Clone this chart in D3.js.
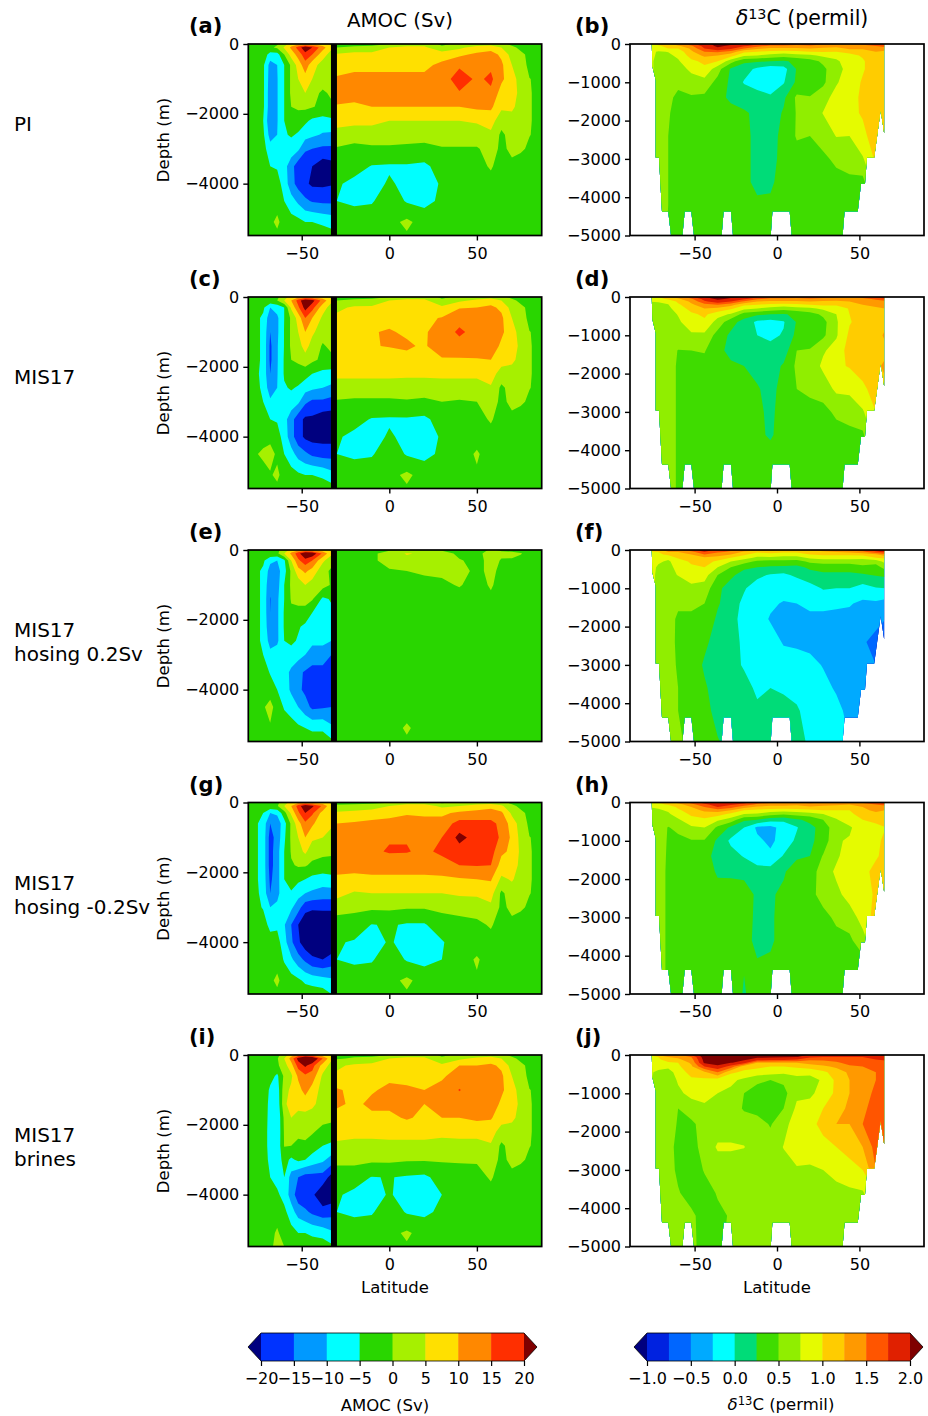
<!DOCTYPE html>
<html>
<head>
<meta charset="utf-8">
<script src="https://cdn.jsdelivr.net/npm/d3@7"></script>
<style>
body { margin: 0; background: #fff; }
text { font-family: "DejaVu Sans", sans-serif; fill: #000; }
</style>
</head>
<body>
<div id="chart"></div>
<script>
// grid of the AMOC panels (the jump between -33 and -30 sits under the black bar)
var amocLat = [-81,-72,-68,-64,-60,-56,-52,-48,-44,-38,-33,-30,-20,-10,0,10,20,30,40,50,58,64,70,75,80,88];
var amocDepth = [0,-100,-300,-600,-1000,-1400,-1800,-2200,-2600,-3000,-3500,-4000,-4500,-5100,-5485];
// grid of the d13C panels
var d13cLat = [-78,-72,-66,-60,-52,-44,-36,-28,-20,-12,-4,4,12,20,28,36,44,52,60,66];
var d13cDepth = [0,-50,-120,-200,-300,-450,-650,-1000,-1400,-1800,-2400,-3000,-3600,-4200,-5000];

var amocLevels = [-20,-15,-10,-5,0,5,10,15,20];
var amocColors = ["#00007f","#0033ff","#0099ff","#00ffff","#29d600","#a6f000","#ffe000","#ff8800","#ff2f00","#7f0000"];
var d13cLevels = [-1,-0.75,-0.5,-0.25,0,0.25,0.5,0.75,1,1.25,1.5,1.75,2];
var d13cColors = ["#00007f","#0022e0","#0066ff","#00aaff","#00ffff","#00dc78","#3fdc00","#90ee00","#e5fb00","#ffcc00","#ff9900","#ff5500","#e02000","#7f0000"];

// sea floor outline of the d13C sections
var oceanLat = [-76,-75.6,-73.6,-73.6,-71.6,-69.8,-66,-64.3,-57.4,-56,-52,-50.4,-33.6,-32.4,-27.9,-26.7,-3.8,-2.8,7.7,8.9,39.8,41,49,51,53.4,54.6,59,62.9,65,65];
var oceanDepth = [0,-590,-940,-2965,-2965,-4375,-4375,-5000,-5000,-4375,-4375,-5000,-5000,-4375,-4375,-5000,-5000,-4375,-4375,-5000,-5000,-4375,-4375,-3650,-3650,-2965,-2965,-1720,-2330,0];
var sectionLat = -31.6;

var rowLabels = [["PI"],["MIS17"],["MIS17","hosing 0.2Sv"],["MIS17","hosing -0.2Sv"],["MIS17","brines"]];
var amocLetters = ["(a)","(c)","(e)","(g)","(i)"];
var d13cLetters = ["(b)","(d)","(f)","(h)","(j)"];

// every inner array is one latitude column, surface first
var amocPI = [
[-1,-1,-1,-1,-1,-1,-1,-1,-1,-1,-1,-1,-1,-1,-1],
[-1,-1,-2,-4,-4,-4,-4,-5,-4,-3,-1,-1,-1,-1,-1],
[-1,-1,-7,-12,-12.5,-13,-13,-14,-12,-8,-5,-2,-1,-1,-1],
[-0.5,1,-7,-10,-10.3,-10.3,-10.3,-10.3,-10,-7,-5.5,-3,-2,1,-1],
[3,5.5,0,-5,-5,-5,-5,-5,-5.5,-7,-8,-7,-5,-2,-2],
[7,11,7,1,1,1,0,-2,-4.5,-7,-13,-13,-8,-3,-2],
[9,17,12,7,5,3,1,-3,-5.5,-9,-18,-17,-11,-3.5,-2],
[9,24,18,13,8,5,1,-4,-8,-14,-20,-19,-14,-5,-2],
[9,20,15,7,5,2,0.3,-6,-9,-15,-20,-21,-15.5,-5,-2],
[7,12,7,3,3,-1,-1,-7,-10.5,-16,-23,-21,-16,-6,-2],
[4,6,3,3,2,1,-1,-6,-11,-16,-22,-20.5,-16,-7,-3],
[-1,0,5.5,8,10.5,12.5,9.5,6.5,3.5,-0.5,-3,-4.5,-5,-2,-1],
[-1,0.5,7,9,11,12,9,6,3,-2,-3.5,-6,-6,-2,-1],
[-1,1,7,9,11,12,10,6,3,-1,-5.2,-6.5,-5.5,-2,-1],
[0,5,8,9,11,13,10,5,3,-1,-5.5,-4.5,-2,-1.5,-1],
[3,6,8,9,11,13,10,5,2,-1,-5.5,-6,-5.5,1,-0.5],
[3,6,8,9,11,13,10,5,2,-1.5,-6,-7,-6.5,-2,-1],
[-1,1,8,11,12,13,10,5,3,-0.5,-3,-4.5,-4,-2,-1.5],
[1,4,9,14,18,14.5,10,5,3,-0.5,-2,-2,-2,-2,-2],
[2,7,11,13,14,14,11,5.5,3,-0.5,-1.5,-2,-2,-2,-2],
[3,8,12,14,16,14,11,7,4,2,0.5,-1.5,-2,-2,-2],
[1,5,9,11,11,8,6,2,-1,-1,-2,-2,-2,-2,-2],
[-1,1,3,5,7,8,6,3,2,1,-1,-2,-2,-2,-2],
[-1,-1,1,2,3,3,3,3,2.5,0.5,-1.5,-2,-2,-2,-2],
[-1,-0.5,-1,-1,0.1,0.2,0.2,0.2,0.1,-0.5,-1.5,-2,-2,-2,-2],
[-1,-1,-1,-1,-1,-1,-1,-1,-1,-1,-1,-1,-1,-1,-1]];

var amocMIS17 = [
[-1,-1,-1,-1,-1,-1,-1,-1,-1,-1,-1,-1,-1,-1,-1],
[-1,-1,-4,-6,-6,-6,-6,-6.5,-6,-5,-2,-1,0.5,-1,-1],
[-1,-1,-10,-13,-15,-16,-16,-15,-13,-9,-5,-1.5,2,-0.5,-1],
[-1,0,-8,-11,-11,-10.5,-10.5,-10.3,-10,-7,-5.5,-3,-1,1,-1],
[3,5,-5,-5,-4.8,-4.8,-4.5,-4.5,-5.5,-6.5,-8,-7,-5,-2,-2],
[7,10,6,1,1,1,0,-2,-4.5,-7,-13,-13,-8,-3,-2],
[9,17,14,7,5,3,1,-2.5,-5.5,-9,-18,-18,-12,-4,-2],
[9,25,22,15,10,7,3,-3,-8,-14,-21,-21,-14,-5,-1.5],
[9,22,17,10,6,3,1,-5,-9,-16,-21,-22,-16,-5,-2],
[7,13,7,4,2,-0.5,-1,-6.5,-10,-16,-23,-22,-17,-6,-2],
[4,6,3,2,2,1,-1,-7,-11,-17,-23,-22,-17,-8,-3],
[-1,0,3.5,6.5,9.5,9,8,6,3,-0.5,-3,-4.5,-5,-2,-1],
[-1,0.5,6,8,9,9,8,6,3,-1,-3.5,-6,-6,-2,-1],
[-1,1,6,8,9.8,9.8,8,6,3,-1,-5.3,-6.5,-5.5,-2,-1],
[0,5,7,9,10.3,10.2,8,6,3,-1,-5.5,-4.5,-2,-1.5,-1],
[3,6,7,9,9.5,10.5,9,6,2.5,-0.5,-5.5,-6,-5.5,1,-0.5],
[3,6,7,9,9.5,9.5,9,6,2.5,-1,-6,-7,-6.5,-2,-1],
[-1,1,6,10.3,12,12.5,9.5,6,3,0,-3,-4.5,-4,-2,-1.5],
[1,4,9.7,13,16,13,9.5,6,3,-0.5,-2,-2,-2,-2,-2],
[2,6,10,12,13,12.5,9.7,6,3,0,-1.5,-1.5,0.5,-0.5,-2],
[3,8,11,13,14,13,10,7,4.5,2,0.5,-1.5,-2,-2,-2],
[1,5,9,11,11,9,7,3,-1,-1,-2,-2,-2,-2,-2],
[-1,1,3,5,7,8,6,3,2,1,-1,-2,-2,-2,-2],
[-1,-1,1,2,3,3.5,3.5,3,2.5,0.5,-1.5,-2,-2,-2,-2],
[-1,-0.5,-1,-1,0.1,0.2,0.2,0.2,0.1,-0.5,-1.5,-2,-2,-2,-2],
[-1,-1,-1,-1,-1,-1,-1,-1,-1,-1,-1,-1,-1,-1,-1]];

var amocHosing = [
[-1,-1,-1,-1,-1,-1,-1,-1,-1,-1,-1,-1,-1,-1,-1],
[-1,-1,-4,-6,-6,-6,-6,-6,-6,-5,-2,-1,-0.5,-1,-1],
[-1,-1,-9,-12,-14,-15.2,-15,-14,-12,-8.5,-5.5,-2,1.5,-0.5,-1],
[-1,-1,-10,-12,-12,-11,-11,-11,-11,-7.5,-6,-5,-2,-1.5,-1.5],
[2,5,-6,-7,-5,-5,-4.5,-4.5,-5,-7,-8,-7,-5.5,-2,-1.5],
[7,11,5,1,1,0.5,-1,-2,-4,-7,-11,-11,-7,-3,-1.5],
[9,18,14,8,2,1,-1,-4.5,-5.5,-8,-14,-14,-10,-4,-1.5],
[9,26,18,11,5,2,-2,-6,-8,-10,-15.5,-16,-13,-5,-2],
[9,24,15,8,3,0.5,-5,-7,-9,-12,-17,-19,-16,-6,-2],
[7,14,6,2,2,-6,-6,-8,-9,-12,-17,-17,-15.5,-6,-2],
[4,6,2,-1,-0.5,-4.5,-6,-8,-10,-15,-17,-17,-15,-9,-4],
[-1,-1,-1,-1,-1,-1,-1,-1,-1,-1,-1,-1,-1,-1,-1],
[-1,-1,-1,-1,-1,-1,-1,-1,-1,-1,-1,-1,-1,-1,-1],
[-1,-1,-1,-1,-1,-1,-1,-1,-1,-1,-1,-1,-1,-1,-1],
[-0.5,2,2,-0.5,-1,-1,-1,-1,-1,-1,-1,-1,-1,-1,-1],
[-0.5,5.5,3,0,-1,-1,-1,-1,-1,-1,-1,-1,-1,0.3,-0.3],
[-0.5,4,3,0.5,-1,-1,-1,-1,-1,-1,-1,-1,-1,-1,-1],
[-0.5,2,1.5,0.5,-0.5,-1,-1,-1,-1,-1,-1,-1,-1,-1,-1],
[-1,-1,0.3,1.5,0.2,-1,-1,-1,-1,-1,-1,-1,-1,-1,-1],
[-1,-1,-1,-1,-1,-1,-1,-1,-1,-1,-1,-1,-1,-1,-1],
[0.3,1.5,1,1,0.3,-0.5,-1,-1,-1,-1,-1,-1,-1,-1,-1],
[-0.3,0.5,-0.2,-1,-1,-1,-1,-1,-1,-1,-1,-1,-1,-1,-1],
[-1,1,-0.5,-1,-1,-1,-1,-1,-1,-1,-1,-1,-1,-1,-1],
[-1,0.2,-1,-1,-1,-1,-1,-1,-1,-1,-1,-1,-1,-1,-1],
[-1,-1,-1,-1,-1,-1,-1,-1,-1,-1,-1,-1,-1,-1,-1],
[-1,-1,-1,-1,-1,-1,-1,-1,-1,-1,-1,-1,-1,-1,-1]];

var amocHosingNeg = [
[-1,-1,-1,-1,-1,-1,-1,-1,-1,-1,-1,-1,-1,-1,-1],
[-1,-1,-5,-7,-7,-7,-7,-7,-6.5,-5.5,-2,-1,-1,-1,-1],
[-1,-1,-10,-15,-17,-17,-17,-16,-15,-10,-7,-2,-1,-1,-1],
[-1,-0.5,-9,-13,-13,-12,-12,-12,-12,-8.5,-6,-3,-2,1,-1],
[2.5,5,-2,-7,-6,-5,-5,-5,-5.5,-7.5,-9.5,-8,-5.5,-2,-2],
[7,10,6,1,1,0.5,-0.5,-3,-5.5,-9,-15,-14,-9,-3,-2],
[9,17,14,8,5,3,0.5,-4,-8,-13,-20,-19,-13,-4,-2],
[9,25,20,14,10,6,0.5,-5,-10,-18,-24,-23,-16,-6,-2],
[8,21,16,11,6,2,-1,-6.5,-11,-19,-25,-24,-19,-7,-2],
[7,14,8,6,5,1,-1.5,-7.5,-12,-19,-24,-23,-20,-8,-2.5],
[4,6,5,6,3,0.5,-1,-7,-12,-19,-24,-24,-18,-9,-5],
[-1,0.5,6,10,12,13,12,9,6.5,2.5,-3,-4.5,-5,-2,-1],
[-1,1,7,10.5,12.5,14,12,8.5,4.5,1,-2,-5.5,-6,-2,-1],
[-1,2,8,11,13,14,12,9,5,1,-5.2,-7,-5.5,-2,-1],
[-0.5,5,9,11,14.5,15.5,12,9,5,1,-4.5,-4.5,-2,-1.5,-1],
[3,7,9.5,12,14.7,15.3,12,9,5,0.5,-5.5,-6.5,-5.5,1,-0.5],
[3,7,9,12,13.5,14,12,9,5,0.5,-5.5,-7,-6.5,-2,-1],
[-1,4,9,12,15,16,13,9,5,1,-2,-5.5,-5,-2,-1.5],
[1,5,11,17,21.5,18,15,9.5,6,1,-1,-2,-2,-2,-2],
[2,7,12,16.5,18,17.5,15.2,10,6,2,-1,-2,0.5,-0.5,-2],
[3,8,13,16,18,17,15,10.5,7,4,0.5,-1.5,-2,-2,-2],
[1,6,11,14,14,11,8,4,-1,-1,-2,-2,-2,-2,-2],
[-1,1,4,7.5,9,9,8,5.5,2.5,1,-1,-2,-2,-2,-2],
[-1,-1,1,3,3.5,4,3.5,3,2.5,0.5,-1.5,-2,-2,-2,-2],
[-1,-0.5,-1,-1,0.1,0.2,0.2,0.2,0.1,-0.5,-1.5,-2,-2,-2,-2],
[-1,-1,-1,-1,-1,-1,-1,-1,-1,-1,-1,-1,-1,-1,-1]];

var amocBrines = [
[-1,-1,-1,-1,-1,-1,-1,-1,-1,-1,-1,-1,-1,-1,-1],
[-1,-1,-1,-1,-1,-1,-1,-1,-1,-1,-1,-1,-1,-1,-1],
[-1,-1,-1,-3,-6,-7,-7.5,-8,-8,-7,-5,-1.5,-1,-1,-1],
[-1,-0.5,-1,-6,-8,-9,-9.5,-9.5,-9,-8,-7,-4,-1.5,0.5,1.5],
[2,5,3,1,3,4,1,0.5,0.2,-3,-5,-7,-3.5,-1.5,0],
[8,12,8,4,6,7,5,2,0,-6,-12,-12,-8,-3,-1.5],
[12,22,17,11,8,7,3,1,-1,-4,-15,-18,-12,-5,-2],
[14,28,21,14,12,7,3.5,1.5,-1,-5,-17,-19,-14,-5,-2],
[12,26,17,13,8,6,3,0.5,-2.5,-7,-17,-19,-16,-6,-2],
[7,15,8,4,3,3,1.5,-1.5,-5,-9,-17,-24,-18,-7,-2],
[4,6,3,2,1,1,1,-2,-6,-12,-22,-23,-17,-9,-4],
[-1,-0.5,4,6,10.5,11,8,7,4,1.5,-3,-4.5,-5,-2,-1],
[-1,0.5,6,8,9,9,8,6.5,3.5,1.5,-3,-6,-6,-2,-1],
[-1,1,7,9,9.5,11,9,6.5,3.5,1,-5.2,-7,-5.5,-2,-1],
[0,5,8,9,11,11,9,7,3.5,1,-4.8,-4.5,-2,-1.5,-1],
[3,6,8,9,10.5,11.5,10.5,7,3.5,0.5,-5.5,-7,-5.5,0.8,-0.5],
[3,6,8,9,10,10,9,7,3.5,0.5,-6,-7,-6,-2,-1],
[-1,1,6,9,12,12,10,6.5,3,0.5,-3,-5,-4,-2,-1.5],
[1,4,10,13,15.2,13,10,6.5,3.5,0.5,-2,-2,-2,-2,-2],
[2,6,10,12,13,12,11,6.5,3.5,0.5,-1.5,-2,-2,-2,-2],
[3,7,11,13,14,13,10.5,7,4.5,2,0.5,-1.5,-2,-2,-2],
[1,5,9,11,11,9,7,3,-1,-1,-2,-2,-2,-2,-2],
[-1,1,3,5,7,8,6,3,2,1,-1,-2,-2,-2,-2],
[-1,-1,1,2,3,3.5,3.5,3,2.5,0.5,-1.5,-2,-2,-2,-2],
[-1,-0.5,-1,-1,0.1,0.2,0.2,0.2,0.1,-0.5,-1.5,-2,-2,-2,-2],
[-1,-1,-1,-1,-1,-1,-1,-1,-1,-1,-1,-1,-1,-1,-1]];

var d13cPI = [
[0.9,0.9,0.85,0.85,0.85,0.85,0.85,0.8,0.7,0.7,0.7,0.7,0.65,0.65,0.65],
[1.1,0.95,0.9,0.72,0.7,0.65,0.65,0.65,0.65,0.65,0.65,0.6,0.6,0.6,0.6],
[1.2,1.1,1,0.76,0.7,0.65,0.62,0.6,0.55,0.52,0.5,0.5,0.5,0.5,0.48],
[1.4,1.2,1,0.85,0.8,0.72,0.65,0.55,0.45,0.42,0.4,0.4,0.4,0.4,0.4],
[1.7,1.45,1.3,1.2,1.1,0.95,0.8,0.65,0.47,0.4,0.38,0.38,0.38,0.38,0.38],
[1.9,1.85,1.75,1.5,1.3,1.05,0.95,0.65,0.45,0.38,0.37,0.37,0.37,0.37,0.37],
[2.1,2.05,1.95,1.55,1.25,1,0.6,0.42,0.3,0.35,0.37,0.37,0.37,0.37,0.37],
[2.05,1.95,1.8,1.4,1.1,0.6,0.22,0.2,0.22,0.3,0.35,0.35,0.35,0.35,0.35],
[2,1.8,1.5,1.05,0.8,0.3,0.1,-0.02,0.15,0.28,0.3,0.3,0.32,0.35,0.35],
[1.8,1.6,1.3,1,0.75,0.28,-0.05,-0.1,0.1,0.2,0.2,0.2,0.18,0.3,0.35],
[1.7,1.45,1.2,0.95,0.65,0.25,-0.15,-0.2,0.05,0.1,0.12,0.15,0.2,0.3,0.35],
[1.7,1.45,1.2,0.9,0.6,0.22,-0.1,-0.02,0.2,0.28,0.35,0.35,0.37,0.37,0.37],
[1.6,1.4,1.2,0.95,0.65,0.3,0.27,0.3,0.55,0.52,0.52,0.42,0.38,0.37,0.37],
[1.65,1.45,1.25,1,0.7,0.4,0.28,0.3,0.52,0.6,0.5,0.42,0.38,0.37,0.37],
[1.55,1.35,1.2,1.02,0.8,0.55,0.45,0.45,0.65,0.76,0.6,0.45,0.4,0.37,0.37],
[1.5,1.35,1.15,1,0.85,0.7,0.65,0.72,0.85,0.9,0.76,0.55,0.42,0.38,0.38],
[1.45,1.35,1.3,1.05,0.95,0.9,0.85,0.9,0.9,0.95,0.75,0.6,0.45,0.4,0.38],
[1.6,1.35,1.3,1.1,1.02,0.98,0.98,1.02,1.05,1.02,0.95,0.72,0.42,0.4,0.4],
[1.8,1.5,1.3,1.25,1.15,1.1,1.1,1.1,1.1,1.1,1.1,1.05,0.9,0.9,0.9],
[1.9,1.6,1.35,1.2,1.15,1.1,1.1,1.1,1.1,1.1,1.1,1.1,1.1,1.1,1.1]];

var d13cMIS17 = [
[0.85,0.8,0.75,0.72,0.72,0.72,0.72,0.7,0.7,0.65,0.65,0.65,0.65,0.65,0.65],
[1,0.9,0.76,0.72,0.7,0.7,0.7,0.7,0.65,0.65,0.65,0.65,0.65,0.65,0.6],
[1.25,1.05,0.8,0.74,0.7,0.68,0.65,0.65,0.62,0.6,0.6,0.6,0.6,0.6,0.6],
[1.35,1.2,1.05,0.95,0.85,0.76,0.72,0.65,0.49,0.47,0.47,0.47,0.47,0.47,0.47],
[1.7,1.45,1.3,1.2,1.1,0.95,0.85,0.72,0.5,0.4,0.38,0.38,0.38,0.38,0.38],
[2,1.85,1.7,1.4,1.25,1.05,0.95,0.7,0.52,0.4,0.37,0.37,0.37,0.37,0.37],
[2.1,2.05,1.9,1.5,1.2,0.85,0.65,0.4,0.3,0.3,0.35,0.35,0.35,0.35,0.35],
[2.05,1.95,1.75,1.35,1.05,0.72,0.35,0.2,0.2,0.28,0.35,0.35,0.35,0.35,0.35],
[2,1.8,1.45,1.05,0.82,0.4,0.15,0.05,0.15,0.25,0.33,0.35,0.35,0.35,0.35],
[1.8,1.55,1.25,1,0.75,0.3,-0.05,0,0.08,0.18,0.27,0.3,0.3,0.33,0.35],
[1.65,1.4,1.2,0.95,0.65,0.25,-0.1,-0.05,0.08,0.14,0.18,0.2,0.22,0.35,0.35],
[1.65,1.4,1.2,0.9,0.6,0.23,-0.02,0.02,0.12,0.28,0.33,0.35,0.35,0.35,0.35],
[1.6,1.4,1.2,0.95,0.65,0.3,0.27,0.32,0.5,0.55,0.5,0.42,0.38,0.37,0.37],
[1.65,1.45,1.25,1,0.7,0.4,0.28,0.35,0.52,0.6,0.55,0.42,0.38,0.37,0.37],
[1.6,1.4,1.2,1.05,0.8,0.55,0.42,0.45,0.72,0.8,0.62,0.42,0.38,0.37,0.37],
[1.55,1.35,1.2,1.05,0.85,0.75,0.72,0.72,0.85,0.95,0.8,0.55,0.4,0.37,0.37],
[1.45,1.35,1.25,1.15,1.02,1,0.98,1.05,1.1,1.02,0.8,0.62,0.42,0.37,0.37],
[1.6,1.4,1.3,1.25,1.12,1.05,1.1,1.15,1.15,1.1,0.95,0.72,0.45,0.4,0.4],
[1.8,1.55,1.4,1.3,1.22,1.2,1.15,1.15,1.15,1.2,1.1,1,0.9,0.9,0.9],
[2,1.7,1.4,1.3,1.25,1.2,1.2,1.3,1.2,1.3,1.2,1.1,1.1,1.1,1.1]];

var d13cHosing = [
[1.1,0.95,0.95,0.9,0.85,0.85,0.85,0.85,0.8,0.7,0.65,0.65,0.65,0.65,0.65],
[1.2,1,0.95,0.85,0.78,0.72,0.7,0.7,0.68,0.66,0.65,0.65,0.65,0.65,0.65],
[1.3,1.25,1.05,0.8,0.72,0.7,0.68,0.65,0.62,0.62,0.6,0.6,0.6,0.6,0.6],
[1.4,1.25,1.15,1.05,0.85,0.8,0.76,0.6,0.55,0.45,0.45,0.47,0.5,0.5,0.6],
[1.7,1.4,1.25,1.15,1.05,0.95,0.85,0.7,0.55,0.45,0.4,0.38,0.35,0.35,0.33],
[1.85,1.75,1.5,1.2,1.1,1,0.85,0.65,0.5,0.45,0.3,0.22,0.28,0.3,0.3],
[1.7,1.55,1.35,1.15,0.95,0.75,0.5,0.3,0.28,0.2,0.15,0.12,0.15,0.2,0.26],
[1.55,1.45,1.25,1,0.75,0.5,0.3,0.15,0.1,0.08,0.1,0.1,0.1,0.15,0.2],
[1.5,1.2,1.05,0.85,0.6,0.3,0.15,0.02,-0.05,-0.08,-0.05,-0.03,0.1,0.15,0.18],
[1.3,1.05,0.85,0.7,0.45,0.25,0.05,-0.1,-0.15,-0.2,-0.2,-0.15,-0.05,0.05,0.1],
[1.3,1.1,0.9,0.7,0.4,0.22,-0.02,-0.15,-0.23,-0.26,-0.2,-0.15,0,0.05,0.1],
[1.2,1.05,0.85,0.65,0.42,0.2,-0.05,-0.2,-0.26,-0.3,-0.26,-0.2,-0.02,0.05,0.1],
[1.2,1.05,0.85,0.65,0.4,0.18,0.05,-0.18,-0.25,-0.3,-0.28,-0.18,-0.08,0.03,0.1],
[1.25,1.1,1,0.8,0.55,0.3,0.15,-0.1,-0.2,-0.3,-0.3,-0.2,-0.15,-0.1,-0.05],
[1.35,1.2,1.05,0.85,0.6,0.35,0.2,0.02,-0.2,-0.3,-0.32,-0.26,-0.2,-0.15,-0.1],
[1.35,1.25,1.05,0.85,0.6,0.35,0.2,0,-0.22,-0.3,-0.35,-0.3,-0.27,-0.2,-0.15],
[1.6,1.3,1.05,0.85,0.6,0.35,0.2,0,-0.23,-0.32,-0.38,-0.35,-0.35,-0.3,-0.25],
[1.7,1.4,1.1,0.8,0.65,0.42,0.22,-0.1,-0.3,-0.4,-0.48,-0.45,-0.4,-0.4,-0.4],
[1.85,1.7,1.2,1,0.6,0.4,0.27,-0.02,-0.3,-0.45,-0.55,-0.5,-0.45,-0.45,-0.45],
[1.9,1.8,1.45,1.05,0.85,0.6,0.3,0,-0.35,-0.5,-0.7,-0.6,-0.5,-0.5,-0.5]];

var d13cHosingNeg = [
[0.85,0.8,0.75,0.72,0.72,0.72,0.72,0.7,0.7,0.65,0.65,0.65,0.65,0.65,0.65],
[1,0.9,0.78,0.72,0.68,0.62,0.6,0.6,0.6,0.6,0.6,0.6,0.6,0.6,0.6],
[1.2,1.05,0.85,0.78,0.72,0.6,0.49,0.48,0.47,0.46,0.46,0.46,0.46,0.46,0.46],
[1.3,1.15,1.05,0.95,0.85,0.72,0.55,0.45,0.42,0.4,0.4,0.4,0.4,0.4,0.4],
[1.6,1.4,1.25,1.15,1.05,0.9,0.72,0.48,0.4,0.38,0.38,0.38,0.38,0.38,0.38],
[1.85,1.7,1.5,1.3,1.15,0.95,0.75,0.48,0.35,0.36,0.38,0.38,0.38,0.38,0.38],
[1.95,1.85,1.75,1.4,1.1,0.8,0.45,0.2,0.15,0.22,0.33,0.37,0.37,0.37,0.37],
[1.9,1.8,1.6,1.25,0.95,0.65,0.2,-0.05,0.1,0.22,0.32,0.35,0.35,0.35,0.35],
[1.85,1.65,1.35,1,0.75,0.3,0,-0.15,-0.02,0.2,0.33,0.35,0.35,0.26,0.235],
[1.6,1.45,1.2,0.95,0.72,0.25,-0.3,-0.2,-0.15,0.1,0.22,0.2,0.18,0.27,0.33],
[1.55,1.35,1.15,0.9,0.6,0.1,-0.33,-0.3,-0.2,0.1,0.2,0.2,0.2,0.3,0.35],
[1.55,1.35,1.15,0.85,0.55,0.05,-0.15,-0.15,0.02,0.2,0.33,0.37,0.37,0.37,0.37],
[1.5,1.3,1.15,0.9,0.6,0.22,-0.02,0.05,0.18,0.48,0.45,0.38,0.37,0.37,0.37],
[1.55,1.4,1.2,0.95,0.65,0.3,0.2,0.2,0.25,0.4,0.42,0.38,0.37,0.37,0.37],
[1.5,1.35,1.15,1,0.75,0.5,0.32,0.35,0.52,0.6,0.6,0.42,0.37,0.37,0.37],
[1.4,1.3,1.15,1,0.88,0.72,0.7,0.72,0.7,0.8,0.68,0.55,0.42,0.37,0.37],
[1.35,1.25,1.12,1,0.95,0.95,0.7,0.78,0.9,0.95,0.85,0.62,0.45,0.37,0.37],
[1.55,1.35,1.25,1.2,1.1,1,0.95,0.95,0.95,0.95,0.85,0.85,0.65,0.4,0.4],
[1.75,1.5,1.35,1.3,1.2,1.05,0.95,0.95,0.98,1.05,1.05,1.1,0.95,0.9,0.9],
[1.9,1.6,1.35,1.25,1.12,1,1,1.05,1.05,1.1,1.15,1.1,1.1,1.1,1.1]];

var d13cBrines = [
[1,0.95,0.9,0.85,0.8,0.78,0.78,0.72,0.7,0.7,0.7,0.7,0.7,0.7,0.7],
[1.3,1,0.95,0.9,0.8,0.72,0.7,0.65,0.6,0.6,0.6,0.6,0.6,0.6,0.6],
[1.4,1.25,1.15,0.95,0.8,0.65,0.6,0.6,0.6,0.6,0.6,0.6,0.6,0.6,0.6],
[1.45,1.3,1.2,1,0.95,0.85,0.78,0.7,0.5,0.48,0.42,0.45,0.52,0.58,0.6],
[1.75,1.5,1.4,1.3,1.2,1.1,0.95,0.82,0.62,0.45,0.4,0.35,0.4,0.55,0.6],
[2.2,2.15,2.1,2.05,1.75,1.2,0.95,0.8,0.72,0.6,0.6,0.52,0.4,0.4,0.35],
[2.3,2.25,2.2,2.1,1.95,1.5,0.9,0.75,0.6,0.62,0.78,0.62,0.52,0.45,0.42],
[2.25,2.2,2.1,2.02,1.65,1.05,0.8,0.7,0.6,0.62,0.78,0.62,0.58,0.52,0.6],
[2.2,2.15,2.05,1.85,1.1,0.95,0.7,0.5,0.48,0.6,0.76,0.6,0.6,0.6,0.6],
[2.15,2.05,1.9,1.25,1.05,0.9,0.55,0.4,0.42,0.6,0.62,0.6,0.6,0.6,0.6],
[2.1,2.05,1.85,1.25,1,0.85,0.5,0.35,0.38,0.48,0.6,0.6,0.6,0.6,0.6],
[2.1,2.03,1.8,1.25,1,0.8,0.55,0.42,0.5,0.65,0.76,0.65,0.6,0.6,0.6],
[2.05,2.02,1.75,1.25,1.05,0.82,0.68,0.7,0.8,0.9,0.9,0.72,0.6,0.6,0.6],
[1.98,1.8,1.55,1.35,1.1,0.85,0.62,0.7,0.85,0.9,0.85,0.72,0.6,0.6,0.6],
[1.9,1.75,1.55,1.4,1.2,0.95,0.8,0.85,1,1.1,0.9,0.75,0.6,0.6,0.6],
[1.85,1.75,1.6,1.45,1.3,1.1,1.05,1.05,1.15,1.25,1,0.85,0.65,0.6,0.6],
[1.85,1.75,1.7,1.6,1.45,1.3,1.25,1.25,1.3,1.25,1.1,0.9,0.7,0.6,0.6],
[1.9,1.75,1.7,1.6,1.5,1.4,1.35,1.4,1.45,1.5,1.25,1,0.72,0.6,0.6],
[1.95,1.9,1.75,1.65,1.5,1.5,1.5,1.55,1.6,1.6,1.6,1.5,1,1,1],
[2.1,1.9,1.8,1.65,1.55,1.5,1.55,1.6,1.6,1.6,1.6,1.6,1.6,1.6,1.6]];

var amocFields = [amocPI, amocMIS17, amocHosing, amocHosingNeg, amocBrines];
var d13cFields = [d13cPI, d13cMIS17, d13cHosing, d13cHosingNeg, d13cBrines];

var width = 928, height = 1416;
var panelTops = [44, 297, 550, 802.5, 1055];
var panelHeight = 191.5;
var leftX = [248.3, 541.7], rightX = [630, 924];

var svg = d3.select("#chart").append("svg")
    .attr("width", width)
    .attr("height", height)
    .style("display", "block");

var xLeft = d3.scaleLinear().domain([-80.5, 87]).range(leftX);
var xRight = d3.scaleLinear().domain([-89.2, 89.2]).range(rightX);

// filled contours: each level is painted over the one below it
function drawField(g, columns, lats, depths, x, y, levels, colors) {
    var values = d3.merge(d3.transpose(columns));
    // d3.contours puts value i at i + 0.5
    var latOf = d3.scaleLinear().domain(lats.map(function(d, i) { return i + 0.5; })).range(lats).clamp(true);
    var depthOf = d3.scaleLinear().domain(depths.map(function(d, i) { return i + 0.5; })).range(depths).clamp(true);
    var path = d3.geoPath(d3.geoTransform({
        point: function(a, b) { this.stream.point(x(latOf(a)), y(depthOf(b))); }
    }));
    g.append("rect")
        .attr("x", x.range()[0])
        .attr("y", y.range()[0])
        .attr("width", x.range()[1] - x.range()[0])
        .attr("height", y.range()[1] - y.range()[0])
        .attr("fill", colors[0]);
    var contours = d3.contours().size([lats.length, depths.length]).thresholds(levels)(values);
    g.selectAll("path.band").data(contours).enter().append("path")
        .attr("class", "band")
        .attr("d", path)
        .attr("fill-rule", "evenodd")
        .attr("fill", function(d, i) { return colors[i + 1]; });
}

function drawFrame(g, x, y, yTicks) {
    g.append("rect")
        .attr("x", x.range()[0])
        .attr("y", y.range()[0])
        .attr("width", x.range()[1] - x.range()[0])
        .attr("height", y.range()[1] - y.range()[0])
        .attr("fill", "none")
        .attr("stroke", "#000")
        .attr("stroke-width", 1.7);
    var xAxis = g.append("g")
        .attr("transform", "translate(0," + y.range()[1] + ")")
        .call(d3.axisBottom(x).tickValues([-50, 0, 50]).tickSize(5).tickPadding(7));
    var yAxis = g.append("g")
        .attr("transform", "translate(" + x.range()[0] + ",0)")
        .call(d3.axisLeft(y).tickValues(yTicks).tickSize(5).tickPadding(4).tickFormat(d3.format("d")));
    [xAxis, yAxis].forEach(function(a) {
        a.select(".domain").remove();
        a.selectAll("line").attr("stroke", "#000").attr("stroke-width", 1.4);
        a.selectAll("text").style("font-family", "DejaVu Sans").style("font-size", "16px");
    });
}

rowLabels.forEach(function(labels, row) {
    var top = panelTops[row];
    var yLeft = d3.scaleLinear().domain([0, -5485]).range([top, top + panelHeight]);
    var yRight = d3.scaleLinear().domain([0, -5000]).range([top, top + panelHeight]);

    // AMOC column
    var gLeft = svg.append("g");
    var clipId = "clip-amoc-" + row;
    gLeft.append("clipPath").attr("id", clipId).append("rect")
        .attr("x", leftX[0]).attr("y", top)
        .attr("width", leftX[1] - leftX[0]).attr("height", panelHeight);
    var fieldLeft = gLeft.append("g").attr("clip-path", "url(#" + clipId + ")");
    drawField(fieldLeft, amocFields[row], amocLat, amocDepth, xLeft, yLeft, amocLevels, amocColors);
    fieldLeft.append("line")
        .attr("x1", xLeft(sectionLat)).attr("x2", xLeft(sectionLat))
        .attr("y1", top).attr("y2", top + panelHeight)
        .attr("stroke", "#000").attr("stroke-width", 6);
    drawFrame(gLeft, xLeft, yLeft, [0, -2000, -4000]);

    // d13C column, clipped to the ocean section
    var gRight = svg.append("g");
    var oceanId = "clip-ocean-" + row;
    var outline = d3.line()
        .x(function(d) { return xRight(d[0]); })
        .y(function(d) { return yRight(d[1]); });
    gRight.append("clipPath").attr("id", oceanId).append("path")
        .attr("d", outline(d3.zip(oceanLat, oceanDepth)) + "Z");
    var fieldRight = gRight.append("g").attr("clip-path", "url(#" + oceanId + ")");
    drawField(fieldRight, d13cFields[row], d13cLat, d13cDepth, xRight, yRight, d13cLevels, d13cColors);
    drawFrame(gRight, xRight, yRight, [0, -1000, -2000, -3000, -4000, -5000]);

    // panel letters
    svg.append("text").attr("x", 189).attr("y", top - 11)
        .style("font-size", "21px").style("font-weight", "bold").text(amocLetters[row]);
    svg.append("text").attr("x", 575).attr("y", top - 11)
        .style("font-size", "21px").style("font-weight", "bold").text(d13cLetters[row]);

    // y label
    svg.append("text")
        .attr("transform", "translate(169," + (top + 96) + ") rotate(-90)")
        .attr("text-anchor", "middle")
        .style("font-size", "16.5px")
        .text("Depth (m)");

    // experiment name on the left
    labels.forEach(function(t, i) {
        svg.append("text").attr("x", 14).attr("y", top + 87 + i * 24)
            .style("font-size", "20px").text(t);
    });
});

function d13cLabel(sel) {
    sel.append("tspan").style("font-style", "italic").text("\u03b4");
    sel.append("tspan").attr("dy", "-0.4em").style("font-size", "70%").text("13");
    sel.append("tspan").attr("dy", "0.28em").text("C (permil)");
}

// titles
svg.append("text").attr("x", 400).attr("y", 27).attr("text-anchor", "middle")
    .style("font-size", "19.8px").text("AMOC (Sv)");
svg.append("text").attr("x", 802).attr("y", 25).attr("text-anchor", "middle")
    .style("font-size", "20.5px").call(d13cLabel);

// bottom x labels
svg.append("text").attr("x", 395).attr("y", 1293).attr("text-anchor", "middle")
    .style("font-size", "16.5px").text("Latitude");
svg.append("text").attr("x", 777).attr("y", 1293).attr("text-anchor", "middle")
    .style("font-size", "16.5px").text("Latitude");

// colorbars
function drawColorbar(range, levels, colors, tickValues, tickFormat) {
    var barTop = 1333, barBottom = 1361, ext = 13;
    var x = d3.scaleLinear().domain(d3.extent(levels)).range(range);
    var g = svg.append("g");
    g.selectAll("rect").data(d3.pairs(levels)).enter().append("rect")
        .attr("x", function(d) { return x(d[0]); })
        .attr("y", barTop)
        .attr("width", function(d) { return x(d[1]) - x(d[0]) + 0.5; })
        .attr("height", barBottom - barTop)
        .attr("fill", function(d, i) { return colors[i + 1]; });
    var mid = (barTop + barBottom) / 2;
    g.append("path")
        .attr("d", "M" + range[0] + "," + barTop + "L" + (range[0] - ext) + "," + mid + "L" + range[0] + "," + barBottom + "Z")
        .attr("fill", colors[0]);
    g.append("path")
        .attr("d", "M" + range[1] + "," + barTop + "L" + (range[1] + ext) + "," + mid + "L" + range[1] + "," + barBottom + "Z")
        .attr("fill", colors[colors.length - 1]);
    g.append("path")
        .attr("d", "M" + range[0] + "," + barTop + "L" + (range[0] - ext) + "," + mid + "L" + range[0] + "," + barBottom +
            "L" + range[1] + "," + barBottom + "L" + (range[1] + ext) + "," + mid + "L" + range[1] + "," + barTop + "Z")
        .attr("fill", "none").attr("stroke", "#000").attr("stroke-width", 0.8);
    var axis = g.append("g")
        .attr("transform", "translate(0," + barBottom + ")")
        .call(d3.axisBottom(x).tickValues(tickValues).tickSize(5).tickPadding(7).tickFormat(tickFormat));
    axis.select(".domain").remove();
    axis.selectAll("line").attr("stroke", "#000").attr("stroke-width", 1.2);
    axis.selectAll("text").style("font-family", "DejaVu Sans").style("font-size", "16px");
}

drawColorbar([261, 524], amocLevels, amocColors, amocLevels, d3.format("d"));
drawColorbar([647, 910], d13cLevels, d13cColors, [-1, -0.5, 0, 0.5, 1, 1.5, 2], d3.format(".1f"));

svg.append("text").attr("x", 385).attr("y", 1411).attr("text-anchor", "middle")
    .style("font-size", "16.5px").text("AMOC (Sv)");
svg.append("text").attr("x", 781).attr("y", 1410).attr("text-anchor", "middle")
    .style("font-size", "16.5px").call(d13cLabel);
</script>
</body>
</html>
